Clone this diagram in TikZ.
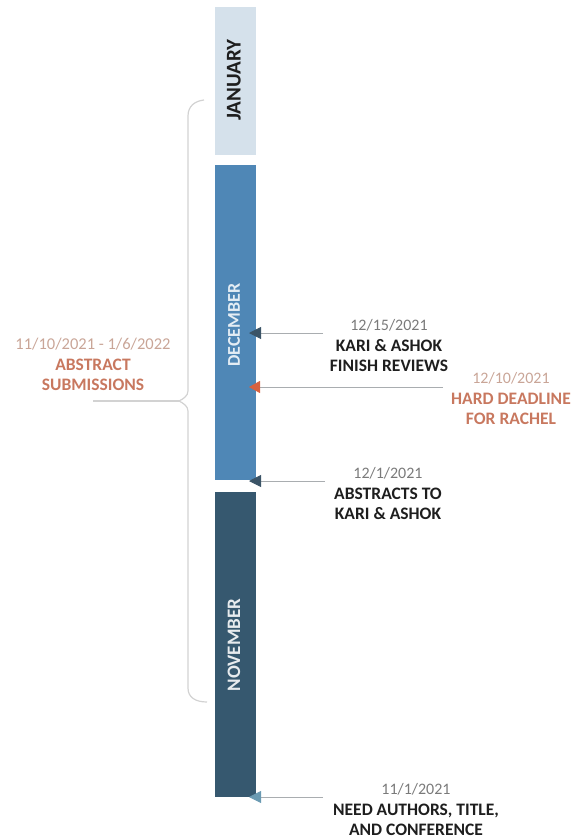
\documentclass[tikz,border=0pt]{standalone}
\usepackage{fontspec}
\setmainfont{Carlito}
\usetikzlibrary{arrows.meta}
\definecolor{jancol}{HTML}{D5E1EB}
\definecolor{deccol}{HTML}{4F87B6}
\definecolor{novcol}{HTML}{36586F}
\definecolor{tipdark}{HTML}{3B5467}
\definecolor{tipred}{HTML}{D8613F}
\definecolor{tipnov}{HTML}{6A9AB2}
\definecolor{linegrey}{HTML}{A9ADB0}
\definecolor{bracegrey}{HTML}{D2D2D2}
\definecolor{redtext}{HTML}{C8785F}
\definecolor{pinkdate}{HTML}{C9A597}
\definecolor{datecol}{HTML}{7A7A7A}
\definecolor{labcol}{HTML}{1E1E1E}
\tikzset{
  monthbar/.style={draw=none, minimum width=41pt, inner sep=0pt},
  monthlabel/.style={rotate=90, font=\fontsize{18}{20}\selectfont\bfseries},
  connector/.style={draw=linegrey, line width=0.9pt},
  eventtext/.style={align=center, inner sep=0pt, font=\fontsize{17.5}{20}\selectfont\bfseries, text=labcol},
}
\newcommand{\evdate}[1]{{\fontsize{16}{20}\selectfont\mdseries\color{datecol}#1}}
\begin{document}
\begin{tikzpicture}[x=1pt,y=-1pt]
\useasboundingbox (0,0) rectangle (579,839);
% bars
\node[monthbar, fill=jancol, minimum height=148pt] (jan) at (235.5,81) {};
\node[monthbar, fill=deccol, minimum height=315pt] (dec) at (235.5,322.5) {};
\node[monthbar, fill=novcol, minimum height=305pt] (nov) at (235.5,644.5) {};
\node[monthlabel, text=labcol, font=\fontsize{21}{22}\selectfont\bfseries] (janlab) at (234,80) {JANUARY};
\node[monthlabel, text=white!85!deccol] (declab) at (234,325) {DECEMBER};
\node[monthlabel, text=white!88!novcol, font=\fontsize{19}{20}\selectfont\bfseries] (novlab) at (234,645) {NOVEMBER};
% arrow coordinates
\coordinate (t15) at (249,333);
\coordinate (s15) at (323,333);
\coordinate (t10) at (249,387);
\coordinate (s10) at (443,387);
\coordinate (t1) at (249,481);
\coordinate (s1) at (325,481);
\coordinate (tn) at (249,797);
\coordinate (sn) at (323,797);
\draw[connector, -{Triangle[length=12pt,width=12pt,color=tipdark]}] (s15) -- (t15);
\draw[connector, -{Triangle[length=11pt,width=12pt,color=tipred]}] (s10) -- (t10);
\draw[connector, -{Triangle[length=12pt,width=12pt,color=tipdark]}] (s1) -- (t1);
\draw[connector, -{Triangle[length=12pt,width=12pt,color=tipnov]}] (sn) -- (tn);
% event texts
\node[eventtext] (e15) at (389,345) {\evdate{12/15/2021}\\[1pt]KARI \& ASHOK\\FINISH REVIEWS};
\node[eventtext, text=redtext] (e10) at (511,398) {{\fontsize{16}{20}\selectfont\mdseries\color{pinkdate}12/10/2021}\\[1pt]HARD DEADLINE\\FOR RACHEL};
\node[eventtext] (e1) at (388,494) {\evdate{12/1/2021}\\[1pt]ABSTRACTS TO\\KARI \& ASHOK};
\node[eventtext] (en) at (416,809) {\evdate{11/1/2021}\\[1pt]NEED AUTHORS, TITLE,\\AND CONFERENCE};
% brace
\coordinate (btop) at (204,100);
\coordinate (btip) at (179,401);
\coordinate (bbot) at (207,702);
\coordinate (lineend) at (93,401);
\draw[draw=bracegrey, line width=1.2pt]
  (btop) .. controls (195,101) and (188,106) .. (188,116)
  -- (188,391) .. controls (188,396) and (183,399) .. (btip)
  .. controls (183,403) and (188,406) .. (188,411)
  -- (188,688) .. controls (188,697) and (195,702) .. (bbot);
\draw[draw=bracegrey, line width=1.2pt] (lineend) -- (btip);
\node[eventtext, text=redtext] (abs) at (93,364) {{\fontsize{16.5}{20}\selectfont\mdseries\color{pinkdate}11/10/2021 - 1/6/2022}\\[1pt]ABSTRACT\\SUBMISSIONS};
\end{tikzpicture}
\end{document}
